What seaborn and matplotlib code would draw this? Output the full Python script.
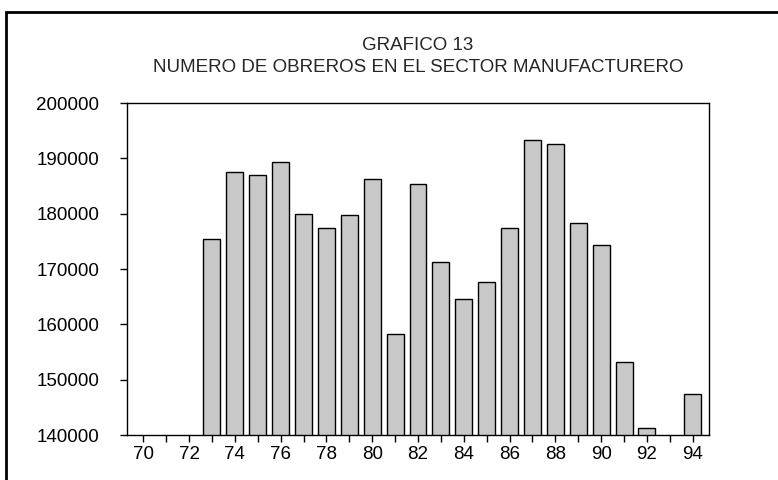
import matplotlib
matplotlib.use("Agg")
import matplotlib.pyplot as plt
import seaborn as sns
import pandas as pd
from matplotlib.patches import Rectangle

years = list(range(70, 95))
obreros = [None, None, None, 175400, 187500, 187000, 189300, 180000, 177500, 179800,
           186200, 158200, 185300, 171300, 164500, 167600, 177500, 193300, 192600,
           178400, 174300, 153200, 141200, None, 147400]
yticks = [140000, 150000, 160000, 170000, 180000, 190000, 200000]

df = pd.DataFrame({"anio": years, "obreros": obreros})
df = df.dropna()

sns.set_style("white")
plt.rcParams['font.family'] = ['Liberation Sans', 'DejaVu Sans']

fig = plt.figure(figsize=(7.78, 4.8), dpi=100)
ax = fig.add_axes([127/778, 1 - 435/480, (709-127)/778, (435-103)/480])

sns.barplot(data=df, x="anio", y="obreros", order=years, color="#c8c8c8",
            edgecolor="black", linewidth=1, width=0.74, saturation=1, ax=ax)

ax.set_ylim(140000, 200000)
ax.set_xlim(-0.71, len(years) - 1 + 0.71)
ax.set_yticks(yticks)
ax.set_yticklabels([str(v) for v in yticks])
ax.set_xticks(range(len(years)))
ax.set_xticklabels([str(y) if y % 2 == 0 else "" for y in years])
ax.set_xlabel("")
ax.set_ylabel("")
ax.tick_params(axis="both", direction="out", length=5, width=1, colors="black",
               labelsize=13.5, left=True, bottom=True)
ax.tick_params(axis="y", pad=15)
ax.tick_params(axis="x", pad=3)
for s in ax.spines.values():
    s.set_color("black")
    s.set_linewidth(1)

fig.text(418/778, 1 - 45/480, "GRAFICO 13", ha="center", va="center", fontsize=13.5)
fig.text(418/778, 1 - 67/480, "NUMERO DE OBREROS EN EL SECTOR MANUFACTURERO",
         ha="center", va="center", fontsize=13.5)

# marco exterior
fig.add_artist(Rectangle((6/778, -0.2), 1.2, 1 - 12/480 + 0.2, transform=fig.transFigure,
                         fill=False, edgecolor="black", linewidth=2))

fig.savefig("out.png", dpi=100)
